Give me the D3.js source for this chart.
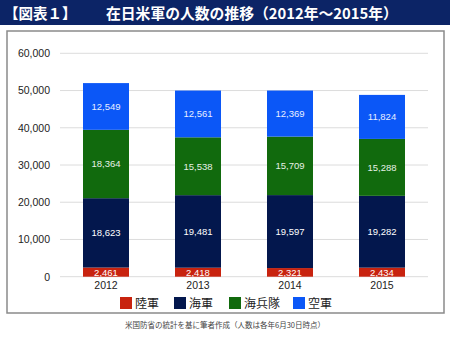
<!DOCTYPE html>
<html lang="ja">
<head>
<meta charset="UTF-8">
<title>在日米軍の人数の推移</title>
<script src="https://d3js.org/d3.v7.min.js"></script>
<style>
  html, body { margin: 0; padding: 0; background: #fff; }
  svg { display: block; }
  text { font-family: Arial, "Liberation Sans", "Noto Sans CJK JP", sans-serif; }
</style>
</head>
<body>
<svg id="chart" width="450" height="338"></svg>
<script>
// 年ごとの兵力（人）
const years = ["2012", "2013", "2014", "2015"];
const branches = ["陸軍", "海軍", "海兵隊", "空軍"];
const army    = [2461, 2418, 2321, 2434];
const navy    = [18623, 19481, 19597, 19282];
const marines = [18364, 15538, 15709, 15288];
const airForce = [12549, 12561, 12369, 11824];
const yTicks = [0, 10000, 20000, 30000, 40000, 50000, 60000];

const colors = ["#c8230f", "#03174d", "#116a0d", "#0b57f7"];
const labelColors = ["#fff", "#fff", "#e6f0e6", "#e8eeff"];

const rows = years.map((y, i) => ({
  year: y, "陸軍": army[i], "海軍": navy[i], "海兵隊": marines[i], "空軍": airForce[i]
}));

const svg = d3.select("#chart");

// タイトル帯
svg.append("rect").attr("x", 0).attr("y", 0).attr("width", 450).attr("height", 25)
  .attr("fill", "#0c2466");
svg.append("text").attr("x", 4).attr("y", 18.5)
  .attr("fill", "#fff").attr("font-size", 14.5).attr("font-weight", "bold")
  .style("font-family", "'Noto Sans CJK JP', sans-serif")
  .text("【図表１】");
svg.append("text").attr("x", 106).attr("y", 18.5)
  .attr("fill", "#fff").attr("font-size", 14.8).attr("font-weight", "bold")
  .style("font-family", "'Noto Sans CJK JP', sans-serif")
  .text("在日米軍の人数の推移（2012年～2015年）");

// 枠
svg.append("rect").attr("x", 7).attr("y", 31).attr("width", 437).attr("height", 282)
  .attr("fill", "none").attr("stroke", "#8a8a8a").attr("stroke-width", 1.5);

const x = d3.scaleBand().domain(years).range([60, 428])
  .paddingInner(0.5).paddingOuter(0.25);
const y = d3.scaleLinear().domain([0, 60000]).range([276.7, 53.3]);

// 目盛線
svg.append("g").selectAll("line").data(yTicks).join("line")
  .attr("x1", 60).attr("x2", 428)
  .attr("y1", d => y(d)).attr("y2", d => y(d))
  .attr("stroke", "#dcdcdc").attr("stroke-width", 1);

// Y軸ラベル
const yAxis = d3.axisLeft(y).tickValues(yTicks).tickSize(0).tickPadding(0)
  .tickFormat(d3.format(","));
svg.append("g").attr("transform", "translate(50,0)").call(yAxis)
  .call(g => g.select(".domain").remove())
  .call(g => g.selectAll("text").attr("fill", "#222").attr("font-size", 10.5)
    .style("font-family", "Arial, 'Liberation Sans', sans-serif"));

// X軸ラベル
const xAxis = d3.axisBottom(x).tickSize(0).tickPadding(0);
svg.append("g").attr("transform", "translate(0,281.5)").call(xAxis)
  .call(g => g.select(".domain").remove())
  .call(g => g.selectAll("text").attr("fill", "#222").attr("font-size", 10.5)
    .style("font-family", "Arial, 'Liberation Sans', sans-serif"));

// 積み上げ棒
const stacked = d3.stack().keys(branches)(rows);
const layer = svg.append("g").selectAll("g").data(stacked).join("g")
  .attr("fill", (d, i) => colors[i]);
layer.selectAll("rect").data(d => d).join("rect")
  .attr("x", d => x(d.data.year))
  .attr("width", x.bandwidth())
  .attr("y", d => y(d[1]))
  .attr("height", d => y(d[0]) - y(d[1]));

// 値ラベル
const fmt = d3.format(",");
svg.append("g").selectAll("g").data(stacked).join("g")
  .attr("fill", (d, i) => labelColors[i])
  .selectAll("text").data(d => d).join("text")
  .attr("x", d => x(d.data.year) + x.bandwidth() / 2)
  .attr("y", d => (y(d[0]) + y(d[1])) / 2)
  .attr("dy", "0.36em")
  .attr("text-anchor", "middle")
  .attr("font-size", 9.5)
  .text(d => fmt(d[1] - d[0]));

// 凡例
const legendX = [120, 174, 229, 293];
const legend = svg.append("g").selectAll("g").data(branches).join("g")
  .attr("transform", (d, i) => `translate(${legendX[i]},297)`);
legend.append("rect").attr("width", 12).attr("height", 12)
  .attr("fill", (d, i) => colors[i]);
legend.append("text").attr("x", 15).attr("y", 10.5)
  .attr("font-size", 12).attr("fill", "#222")
  .style("font-family", "'Noto Sans CJK JP', sans-serif")
  .text(d => d);

// 出典
svg.append("text").attr("x", 225).attr("y", 328)
  .attr("text-anchor", "middle").attr("font-size", 7.5).attr("fill", "#444")
  .style("font-family", "'Noto Sans CJK JP', sans-serif")
  .text("米国防省の統計を基に筆者作成（人数は各年6月30日時点）");
</script>
</body>
</html>
